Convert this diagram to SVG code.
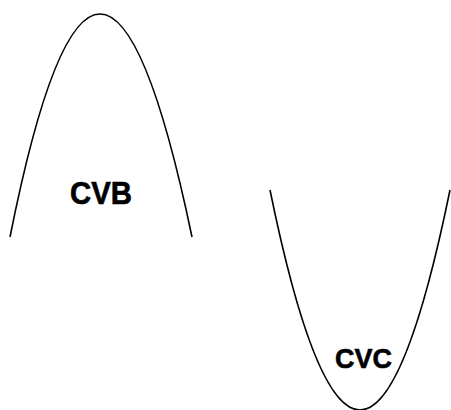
<svg xmlns="http://www.w3.org/2000/svg" width="451" height="410" viewBox="0 0 451 410">
<style>
.curve{fill:none;stroke:#000;stroke-width:1.6}
.lbl{font-family:"Liberation Sans",Arial,sans-serif;font-weight:bold;fill:#000;stroke:#000;stroke-width:0.6}
</style>
<rect width="451" height="410" fill="#fff"/>
<g id="cvb">
<path class="curve" d="M10,237 Q99,-209 192,237"/>
<text class="lbl" x="70" y="204" font-size="30.5" textLength="62" lengthAdjust="spacingAndGlyphs">CVB</text>
</g>
<g id="cvc">
<path class="curve" d="M270,190 Q360,630 450,190"/>
<text class="lbl" x="335" y="368" font-size="28" textLength="57" lengthAdjust="spacingAndGlyphs">CVC</text>
</g>
</svg>
